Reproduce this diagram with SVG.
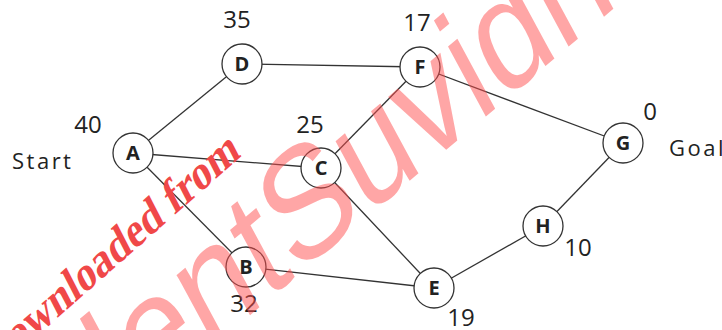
<svg xmlns="http://www.w3.org/2000/svg" width="722" height="330" viewBox="0 0 722 330">
<style>
.edge{stroke:#333;stroke-width:1.3;fill:none}
.node circle{fill:#fff;stroke:#333;stroke-width:1.3}
.node text{font-family:"Open Sans","Liberation Sans",sans-serif;font-weight:bold;font-size:20px;fill:#222;text-anchor:middle}
.num{font-family:"Open Sans","Liberation Sans",sans-serif;font-size:24px;fill:#222;text-anchor:middle}
.lbl{font-family:"Open Sans","Liberation Sans",sans-serif;font-size:22px;letter-spacing:2.5px;fill:#222}
.wm1{font-family:"Liberation Serif",serif;font-weight:bold;font-size:39px;fill:#f04848}
.wm2{font-family:"Liberation Sans",Arial,sans-serif;font-size:128px;fill:#ff4d4d;fill-opacity:0.5}
</style>
<rect width="722" height="330" fill="#fff"/>
<g id="connectors">
<line class="edge" x1="133" y1="153" x2="242" y2="64"/>
<line class="edge" x1="133" y1="153" x2="321" y2="168"/>
<line class="edge" x1="133" y1="153" x2="246" y2="267"/>
<line class="edge" x1="242" y1="64" x2="420" y2="67"/>
<line class="edge" x1="420" y1="67" x2="321" y2="168"/>
<line class="edge" x1="420" y1="67" x2="623" y2="143"/>
<line class="edge" x1="321" y1="168" x2="434" y2="288"/>
<line class="edge" x1="246" y1="267" x2="434" y2="288"/>
<line class="edge" x1="434" y1="288" x2="543" y2="226"/>
<line class="edge" x1="543" y1="226" x2="623" y2="143"/>
</g>
<g id="node-A" class="node"><circle cx="133" cy="153" r="20"/><text x="133" y="160">A</text></g>
<g id="node-D" class="node"><circle cx="242" cy="64" r="20"/><text x="242" y="71">D</text></g>
<g id="node-F" class="node"><circle cx="420" cy="67" r="20"/><text x="420" y="74">F</text></g>
<g id="node-C" class="node"><circle cx="321" cy="168" r="20"/><text x="321" y="175">C</text></g>
<g id="node-G" class="node"><circle cx="623" cy="143" r="20"/><text x="623" y="150">G</text></g>
<g id="node-H" class="node"><circle cx="543" cy="226" r="20"/><text x="543" y="233">H</text></g>
<g id="node-B" class="node"><circle cx="246" cy="267" r="20"/><text x="246" y="274">B</text></g>
<g id="node-E" class="node"><circle cx="434" cy="288" r="20"/><text x="434" y="295">E</text></g>
<g id="labels">
<text class="num" x="237" y="28">35</text>
<text class="num" x="417" y="31">17</text>
<text class="num" x="88" y="133">40</text>
<text class="num" x="310" y="133">25</text>
<text class="num" x="650" y="120">0</text>
<text class="num" x="578" y="256">10</text>
<text class="num" x="461" y="326">19</text>
<text class="num" x="244" y="312">32</text>
<text class="lbl" x="12" y="169">Start</text>
<text class="lbl" x="669" y="156">Goal</text>
</g>
<g id="watermark">
<text class="wm1" transform="translate(242,156) scale(1,1.3) rotate(-34)" text-anchor="end">Downloaded from</text>
<text class="wm2" transform="translate(-70,585) scale(1,1.25) rotate(-34)">StudentSuvidha</text>
</g>
</svg>
